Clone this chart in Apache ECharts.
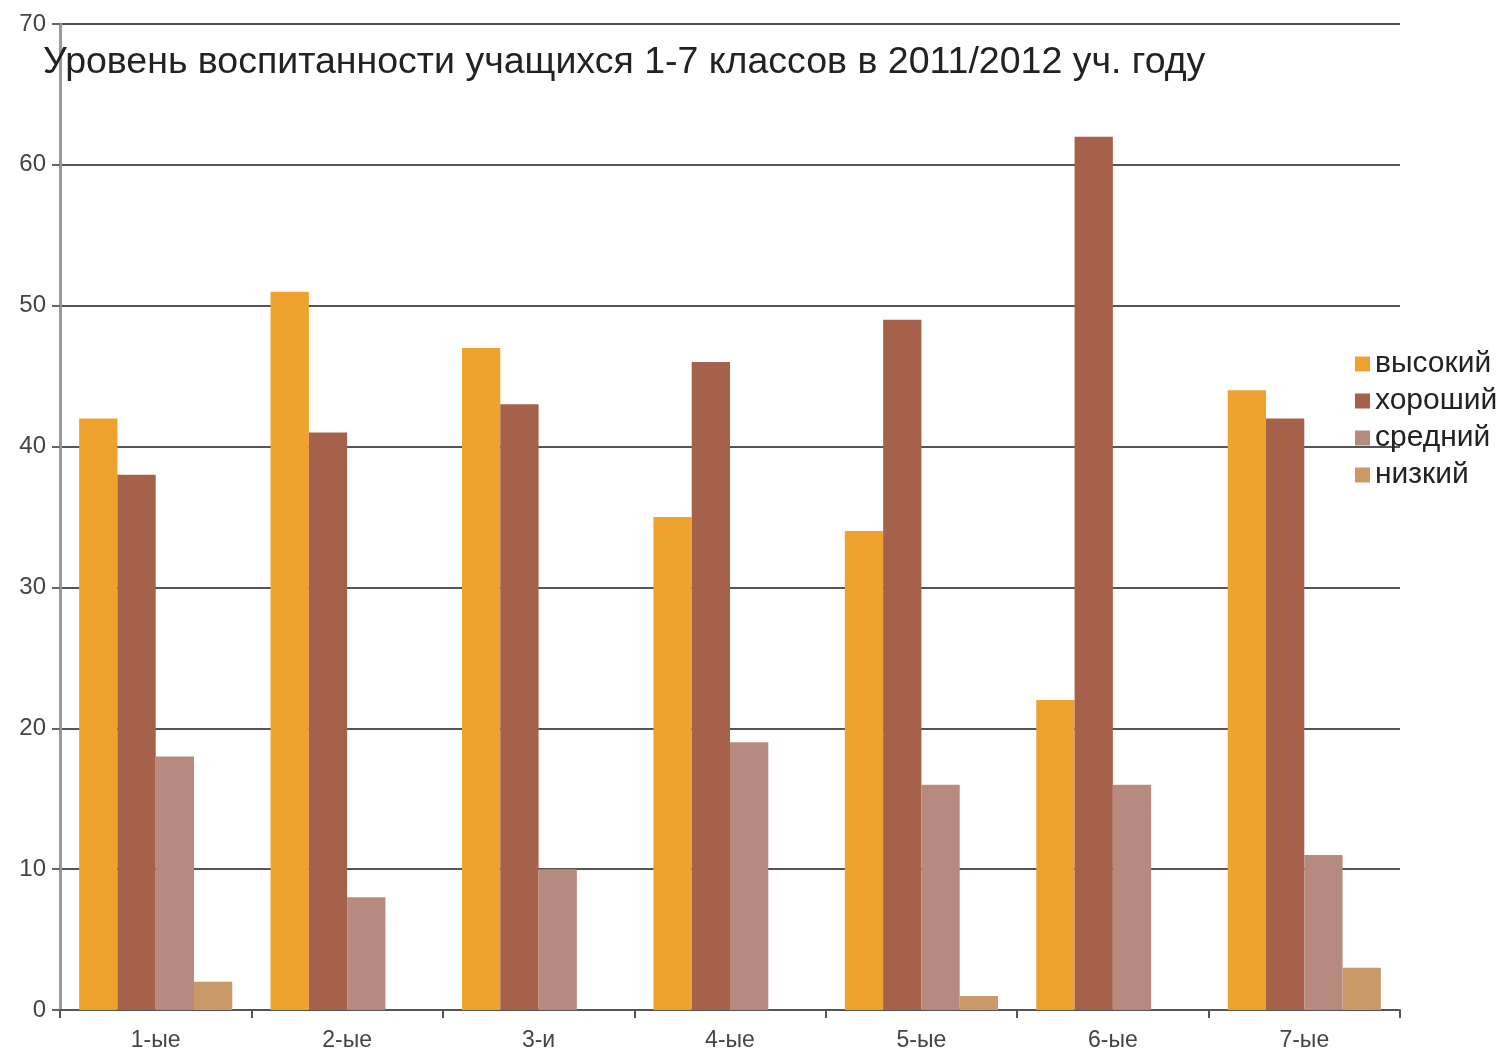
<!DOCTYPE html>
<html><head><meta charset="utf-8">
<script src="https://cdn.jsdelivr.net/npm/echarts@6/dist/echarts.min.js"></script>
<style>html,body{margin:0;padding:0;background:#fff}#c{width:1507px;height:1052px}</style>
</head><body><div id="c"></div>
<script>
const categories = ['1-ые','2-ые','3-и','4-ые','5-ые','6-ые','7-ые'];
const seriesNames = ['высокий','хороший','средний','низкий'];
const high = [42, 51, 47, 35, 34, 22, 44];
const good = [38, 41, 43, 46, 49, 62, 42];
const medium = [18, 8, 10, 19, 16, 16, 11];
const low = [2, 0, 0, 0, 1, 0, 3];
const colors = ['#EFA22E','#A5614A','#B68A7E','#C99A68'];
const values = [high, good, medium, low];

const chart = echarts.init(document.getElementById('c'));
chart.setOption({
  animation: false,
  title: {
    text: 'Уровень воспитанности учащихся 1-7 классов в 2011/2012 уч. году',
    left: 38, top: 39,
    textStyle: {fontFamily: 'Arial, Liberation Sans', fontSize: 37.5, fontWeight: 'normal', color: '#222'}
  },
  legend: {
    orient: 'vertical', left: 1350, top: 344,
    itemWidth: 15, itemHeight: 15, itemGap: 7, icon: 'rect',
    textStyle: {fontFamily: 'Arial, Liberation Sans', fontSize: 30, color: '#222'},
    data: seriesNames
  },
  grid: {left: 60, right: 107, top: 24, bottom: 42},
  xAxis: {
    type: 'category', data: categories,
    axisLine: {lineStyle: {color: '#555', width: 2}},
    axisTick: {show: true, length: 8, lineStyle: {color: '#555', width: 2}},
    axisLabel: {fontFamily: 'Arial, Liberation Sans', fontSize: 23, color: '#444', margin: 19}
  },
  yAxis: {
    type: 'value', min: 0, max: 70, interval: 10,
    axisLine: {show: true, lineStyle: {color: '#999', width: 3}},
    axisTick: {show: true, length: 8, lineStyle: {color: '#666', width: 2}},
    axisLabel: {fontFamily: 'Arial, Liberation Sans', fontSize: 24, color: '#444', margin: 14},
    splitLine: {lineStyle: {color: '#555', width: 2}}
  },
  series: seriesNames.map((n, i) => ({
    name: n, type: 'bar', data: values[i],
    itemStyle: {color: colors[i]},
    barGap: '0%', barCategoryGap: '20%'
  }))
});
</script></body></html>
